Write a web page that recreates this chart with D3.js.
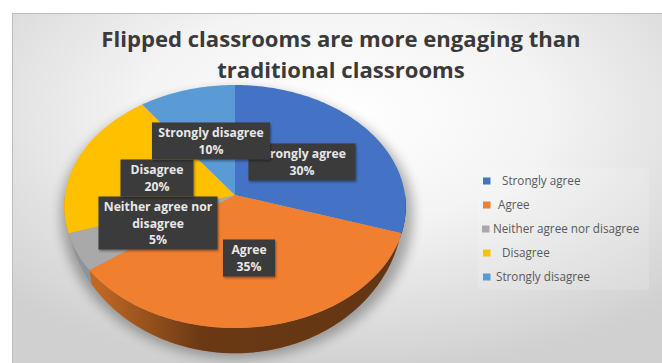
<!DOCTYPE html>
<html>
<head>
<meta charset="utf-8">
<script src="https://cdn.jsdelivr.net/npm/d3@7"></script>
<style>
  html, body { margin: 0; padding: 0; background: #fff; }
  svg { display: block; }
</style>
</head>
<body>
<svg id="chart" width="662" height="363"></svg>
<script>
const categories = ["Strongly agree", "Agree", "Neither agree nor disagree", "Disagree", "Strongly disagree"];
const shares = [30, 35, 5, 20, 10];
const sliceColors = ["#4472c4", "#f17f30", "#a9a9a9", "#ffc000", "#5b9bd5"];
const wallColors = ["#37598f", "#c56a25", "#8e96a0", "#b58a10", "#3b6a94"];
const titleLines = ["Flipped classrooms are more engaging than", "traditional classrooms"];
// Data label text, wrapped per line
const labelLines = [
  ["Strongly agree", "30%"],
  ["Agree", "35%"],
  ["Neither agree nor", "disagree", "5%"],
  ["Disagree", "20%"],
  ["Strongly disagree", "10%"]
];
// Label box centre relative to the pie centre, and box size
const labelOffsets = [[67, -33], [14, 63], [-77, 28], [-78, -17], [-24, -54]];
const labelSizes = [[107, 37], [52, 37], [119, 53], [73, 37], [118, 37]];
// Legend row layout: swatch size and where the text starts
const legendTextX = [502, 498, 493, 502, 496];
const legendSwatchX = [483, 483, 482, 483, 483];

const svg = d3.select("#chart");
const defs = svg.append("defs");

const bg = defs.append("radialGradient").attr("id", "panel")
  .attr("cx", "50%").attr("cy", "28%").attr("r", "72%");
bg.append("stop").attr("offset", "0%").attr("stop-color", "#ffffff");
bg.append("stop").attr("offset", "42%").attr("stop-color", "#f4f4f4");
bg.append("stop").attr("offset", "100%").attr("stop-color", "#d0d0d0");

const wallShade = defs.append("linearGradient").attr("id", "wallShade")
  .attr("x1", "0").attr("x2", "1").attr("y1", "0").attr("y2", "0");
wallShade.append("stop").attr("offset", "0%").attr("stop-color", "#000").attr("stop-opacity", 0);
wallShade.append("stop").attr("offset", "10%").attr("stop-color", "#000").attr("stop-opacity", 0.03);
wallShade.append("stop").attr("offset", "40%").attr("stop-color", "#000").attr("stop-opacity", 0.46);
wallShade.append("stop").attr("offset", "100%").attr("stop-color", "#000").attr("stop-opacity", 0.5);

const soft = defs.append("filter").attr("id", "soft")
  .attr("x", "-20%").attr("y", "-20%").attr("width", "140%").attr("height", "140%");
soft.append("feGaussianBlur").attr("stdDeviation", 6);

const boxShadow = defs.append("filter").attr("id", "boxShadow")
  .attr("x", "-10%").attr("y", "-10%").attr("width", "125%").attr("height", "130%");
boxShadow.append("feDropShadow").attr("dx", 1).attr("dy", 1.5).attr("stdDeviation", 1.2)
  .attr("flood-color", "#000").attr("flood-opacity", 0.4);

// Chart panel
svg.append("rect").attr("x", 12.5).attr("y", 13.5).attr("width", 660).attr("height", 360)
  .attr("fill", "url(#panel)").attr("stroke", "#bdbdbd");
// Slightly lighter plate behind the legend
svg.append("rect").attr("x", 478).attr("y", 168).attr("width", 171).attr("height", 122)
  .attr("fill", "#fff").attr("opacity", 0.15);

// Title
svg.append("g").selectAll("text").data(titleLines).join("text")
  .attr("x", 341).attr("y", (d, i) => 47 + i * 31)
  .attr("text-anchor", "middle")
  .attr("font-family", "'Open Sans', sans-serif").attr("font-weight", 700)
  .attr("font-size", 22.1).attr("fill", "#3a3a3a")
  .text(d => d);

// Tilted-disc projection of the pie: unit circle -> screen, with near-side enlargement
const cx = 235, cy = 195, rx = 170, ry = 120.4, persp = 0.0947;
const project = (angle, radius = 1) => {
  const u = Math.sin(angle) * radius, v = -Math.cos(angle) * radius;
  const s = 1 / (1 - persp * v);
  return { x: cx + rx * u * s, y: cy + ry * v * s };
};
// The underside ring appears narrower and sits lower towards the viewer
const lowerRing = p => ({ x: cx + (p.x - cx) * 0.985, y: cy + (p.y - cy) * 1.19 });

const arcs = d3.pie().sort(null).value(d => d)(shares);
const outline = d3.line().x(d => d.x).y(d => d.y);
const sampleAngles = (a0, a1) => {
  const n = Math.max(2, Math.ceil((a1 - a0) / 0.02));
  return d3.range(n + 1).map(i => a0 + (a1 - a0) * i / n);
};

// Soft shadow on the floor around the disc
const floorAngles = sampleAngles(0, 2 * Math.PI);
svg.append("path")
  .attr("d", outline(floorAngles.map(a => {
    const p = project(a);
    const near = lowerRing(p);
    return { x: cx + (p.x - cx) * 1.03 + 2, y: Math.max(p.y, near.y) + 5 };
  })) + "Z")
  .attr("fill", "#000").attr("opacity", 0.3).attr("filter", "url(#soft)");

// Side wall: only the near half of the rim is visible
const halfPi = Math.PI / 2;
const wallPath = d => {
  const a0 = Math.max(d.startAngle, halfPi), a1 = Math.min(d.endAngle, 3 * halfPi);
  if (a1 <= a0) return null;
  const rim = sampleAngles(a0, a1).map(a => project(a));
  return outline(rim.concat(rim.map(lowerRing).reverse())) + "Z";
};
const walls = svg.append("g");
walls.selectAll("path.wall").data(arcs).join("path").attr("class", "wall")
  .attr("d", wallPath).attr("fill", (d, i) => wallColors[i]);
walls.append("path")
  .attr("d", wallPath({ startAngle: halfPi, endAngle: 3 * halfPi }))
  .attr("fill", "url(#wallShade)");

// Top face slices
svg.append("g").selectAll("path").data(arcs).join("path")
  .attr("d", d => outline([project(0, 0)].concat(sampleAngles(d.startAngle, d.endAngle).map(a => project(a)))) + "Z")
  .attr("fill", (d, i) => sliceColors[i]);

// Data labels, painted in series order so later boxes sit on earlier ones
const labels = svg.append("g").selectAll("g").data(arcs).join("g")
  .attr("transform", (d, i) => `translate(${cx + labelOffsets[i][0]},${cy + labelOffsets[i][1]})`);
labels.append("rect")
  .attr("x", (d, i) => -labelSizes[i][0] / 2).attr("y", (d, i) => -labelSizes[i][1] / 2)
  .attr("width", (d, i) => labelSizes[i][0]).attr("height", (d, i) => labelSizes[i][1])
  .attr("fill", "#3a3a3a").attr("filter", "url(#boxShadow)");
labels.each(function (d, i) {
  const lines = labelLines[i];
  d3.select(this).selectAll("text").data(lines).join("text")
    .attr("text-anchor", "middle")
    .attr("y", (t, j) => (j - (lines.length - 1) / 2) * 16.5 + 4.5)
    .attr("font-family", "'Open Sans', sans-serif").attr("font-weight", 700)
    .attr("font-size", 12.2).attr("fill", "#e8e8e8")
    .text(t => t);
});

// Legend
const legendY = d3.scalePoint().domain(categories).range([181, 277]);
const legend = svg.append("g").selectAll("g").data(categories).join("g");
legend.append("rect")
  .attr("x", (d, i) => legendSwatchX[i]).attr("y", d => legendY(d) - 3.5)
  .attr("width", 7.5).attr("height", 7).attr("fill", (d, i) => sliceColors[i]);
legend.append("text")
  .attr("x", (d, i) => legendTextX[i]).attr("y", d => legendY(d) + 4)
  .attr("font-family", "'Open Sans', sans-serif").attr("font-size", 11.7)
  .attr("fill", "#595959")
  .text(d => d);
</script>
</body>
</html>
